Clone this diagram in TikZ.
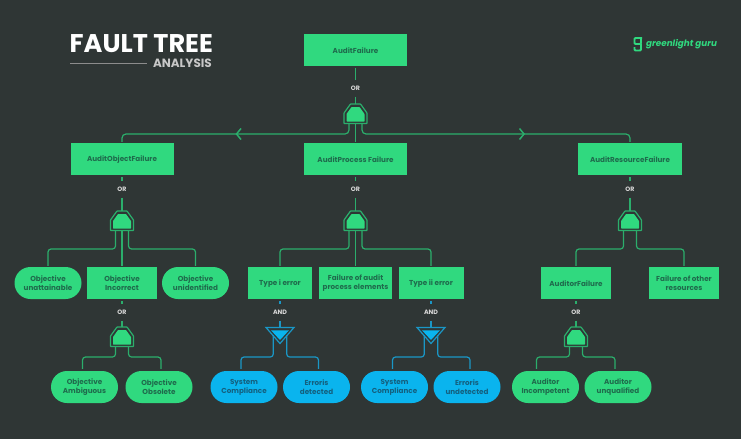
\documentclass[tikz,border=0pt]{standalone}
\usepackage{fontspec}
\setmainfont{Poppins}
\usepackage{tikz}
\usetikzlibrary{shapes.misc}
\definecolor{bgdark}{HTML}{2F3635}
\definecolor{faultgreen}{HTML}{30D97F}
\definecolor{faultblue}{HTML}{0AB4EE}
\definecolor{linegreen}{HTML}{2BAE6C}
\definecolor{lineblue}{HTML}{1A97C6}
\definecolor{textgreen}{HTML}{1F6B4C}
\definecolor{textblue}{HTML}{14607F}
\tikzset{
box/.style={fill=faultgreen,text=textgreen,font=\fontsize{7.2}{9}\selectfont\bfseries,align=center,inner sep=0pt,minimum height=32pt,execute at begin node=\rule{0pt}{7.5pt}},
pill/.style={box,rounded rectangle,minimum width=67pt},
bluepill/.style={pill,fill=faultblue,text=textblue},
gatelabel/.style={text=white!85!black,font=\fontsize{6.3}{7}\selectfont\bfseries,inner sep=0pt,minimum width=14pt,minimum height=16pt},
wire/.style={linegreen,line width=1.2pt,rounded corners=3pt},
bluewire/.style={wire,lineblue},
}
% OR gate, top middle at #2
\newcommand{\orgate}[2]{
\begin{scope}[shift={#2}]
\coordinate (#1) at (0,0);
\coordinate (#1b) at (0,19.5);
\coordinate (#1l) at (-6.5,19.5);
\coordinate (#1r) at (6.5,19.5);
\draw[wire,rounded corners=0.5pt] (-11.5,19.5) -- (-11.5,9) -- (-5,0) -- (5,0) -- (11.5,9) -- (11.5,19.5) -- cycle;
\fill[faultgreen,rounded corners=0.5pt] (-9,17.5) -- (-9,10) -- (-4,3) -- (4,3) -- (9,10) -- (9,17.5) -- cycle;
\end{scope}
}
% AND gate, top middle at #2
\newcommand{\andgate}[2]{
\begin{scope}[shift={#2}]
\coordinate (#1) at (0,0);
\coordinate (#1l) at (-6.7,7.5);
\coordinate (#1r) at (6.7,7.5);
\draw[bluewire,rounded corners=0pt] (-14,0) -- (14,0) -- (0,16) -- cycle;
\fill[faultblue] (-9,2.8) -- (9,2.8) -- (0,12.5) -- cycle;
\end{scope}
}
\begin{document}
\begin{tikzpicture}[x=1pt,y=-1pt]
\fill[bgdark] (0,0) rectangle (741,439);
\useasboundingbox (0,0) rectangle (741,439);

% title
\node[anchor=base west,inner sep=0pt,text=white,font=\fontsize{25.6}{26}\selectfont\bfseries] (title) at (69.5,52) {FAULT TREE};
\node[anchor=base east,inner sep=0pt,text=white!78!black,font=\fontsize{12}{13}\selectfont\bfseries] (subtitle) at (212,67) {ANALYSIS};
\coordinate (ruleleft) at (70,63);
\coordinate (ruleright) at (147,63);
\draw[white!55!black,line width=0.7pt] (ruleleft) -- (ruleright);

% logo
\draw[faultgreen,line width=1.8pt,rounded corners=1pt] (642,38) -- (634.5,38) -- (634.5,44) -- (641,44) -- (641,38);
\draw[faultgreen,line width=1.8pt,rounded corners=1pt] (634.5,47) -- (634.5,50.5) -- (641,50.5) -- (641,44);
\node[anchor=west,inner sep=0pt,text=faultgreen,font=\fontsize{8.8}{9}\selectfont\bfseries\itshape] (logo) at (646,44.5) {greenlight guru};

% first row
\node[box,minimum width=103pt] (audit) at (355.5,50) {AuditFailure};
\node[box,minimum width=103pt] (object) at (122,159) {AuditObjectFailure};
\node[box,minimum width=103pt] (process) at (355.5,159) {AuditProcess Failure};
\node[box,minimum width=104pt] (resource) at (630,159) {AuditResourceFailure};

% second row
\node[pill] (unattain) at (48,283) {Objective\\unattainable};
\node[box,minimum width=70pt] (incorrect) at (122,283) {Objective\\Incorrect};
\node[pill] (unident) at (195.5,283) {Objective\\unidentified};
\node[box,minimum width=64pt] (typei) at (280,283) {Type i error};
\node[box,minimum width=73pt] (elements) at (355.5,283) {Failure of audit\\process elements};
\node[box,minimum width=65pt] (typeii) at (431,283) {Type ii error};
\node[box,minimum width=70pt] (auditor) at (576,283) {AuditorFailure};
\node[box,minimum width=70pt] (other) at (684,283) {Failure of other\\resources};

% third row
\node[pill] (ambig) at (84.5,387) {Objective\\Ambiguous};
\node[pill] (obsol) at (159,387) {Objective\\Obsolete};
\node[bluepill] (sysa) at (244,387) {System\\Compliance};
\node[bluepill] (detect) at (316.5,387) {Erroris\\detected};
\node[bluepill] (sysb) at (394.5,387) {System\\Compliance};
\node[bluepill] (undetect) at (467,387) {Erroris\\undetected};
\node[pill] (incomp) at (545.5,387) {Auditor\\Incompetent};
\node[pill] (unqual) at (618,387) {Auditor\\unqualified};

% gate labels
\node[gatelabel] (ortop) at (355.5,88.5) {OR};
\node[gatelabel] (orobject) at (122,189.5) {OR};
\node[gatelabel] (orprocess) at (355.5,189.5) {OR};
\node[gatelabel] (orresource) at (630,189.5) {OR};
\node[gatelabel] (orincorrect) at (122,312.5) {OR};
\node[gatelabel,minimum width=20pt] (andi) at (280,312.5) {AND};
\node[gatelabel,minimum width=20pt] (andii) at (431,312.5) {AND};
\node[gatelabel] (orauditor) at (576,312.5) {OR};

% gates
\orgate{gatetop}{(355.5,104)}
\orgate{gateobject}{(122,211)}
\orgate{gateprocess}{(355.5,211)}
\orgate{gateresource}{(630,211)}
\orgate{gateincorrect}{(122,327)}
\orgate{gateauditor}{(576,327)}
\andgate{gatei}{(280,327.5)}
\andgate{gateii}{(431,327.5)}

% top gate
\draw[wire,shorten <=2pt] (audit) -- (ortop);
\draw[wire] (ortop) -- (gatetop);
\draw[wire,shorten >=1pt] (gatetopb) -- (process);
\draw[wire,rounded corners=4pt,shorten >=1pt] (gatetopl) -- ++(0,10.5) -| (object.north);
\draw[wire,rounded corners=4pt,shorten >=1pt] (gatetopr) -- ++(0,10.5) -| (resource.north);
\coordinate (chevl) at (236.5,134);
\coordinate (chevr) at (524,134);
\draw[wire,line width=1.5pt,rounded corners=0pt] ([shift={(4.5,-5.5)}]chevl) -- (chevl) -- ([shift={(4.5,5.5)}]chevl);
\draw[wire,line width=1.5pt,rounded corners=0pt] ([shift={(-4.5,-5.5)}]chevr) -- (chevr) -- ([shift={(-4.5,5.5)}]chevr);

% object gate
\draw[wire,shorten <=2pt] (object) -- (orobject);
\draw[wire] (orobject) -- (gateobject);
\draw[wire,shorten >=1pt] (gateobjectb) -- (incorrect);
\draw[wire,shorten >=1pt] (gateobjectl) -- ++(0,18.5) -| (unattain.north);
\draw[wire,shorten >=1pt] (gateobjectr) -- ++(0,18.5) -| (unident.north);

% process gate
\draw[wire,shorten <=2pt] (process) -- (orprocess);
\draw[wire] (orprocess) -- (gateprocess);
\draw[wire,shorten >=1pt] (gateprocessb) -- (elements);
\draw[wire,shorten >=1pt] (gateprocessl) -- ++(0,18.5) -| (typei.north);
\draw[wire,shorten >=1pt] (gateprocessr) -- ++(0,18.5) -| (typeii.north);

% resource gate
\draw[wire,shorten <=2pt] (resource) -- (orresource);
\draw[wire] (orresource) -- (gateresource);
\draw[wire,shorten >=1pt] (gateresourcel) -- ++(0,18.5) -| (auditor.north);
\draw[wire,shorten >=1pt] (gateresourcer) -- ++(0,18.5) -| (other.north);

% incorrect gate
\draw[wire,shorten <=2pt] (incorrect) -- (orincorrect);
\draw[wire] (orincorrect) -- (gateincorrect);
\draw[wire,shorten >=2pt] (gateincorrectl) -- ++(0,10.5) -| ([xshift=-2pt]ambig.north);
\draw[wire,shorten >=2pt] (gateincorrectr) -- ++(0,10.5) -| ([xshift=2pt]obsol.north);

% type i gate
\draw[bluewire,shorten <=2pt] (typei) -- (andi);
\draw[bluewire] (andi) -- (gatei);
\draw[bluewire,shorten >=2pt] (gateil) -- ++(0,22) -| ([xshift=-3pt]sysa.north);
\draw[bluewire,shorten >=2pt] (gateir) -- ++(0,22) -| ([xshift=2pt]detect.north);

% type ii gate
\draw[bluewire,shorten <=2pt] (typeii) -- (andii);
\draw[bluewire] (andii) -- (gateii);
\draw[bluewire,shorten >=2pt] (gateiil) -- ++(0,22) -| ([xshift=-2pt]sysb.north);
\draw[bluewire,shorten >=2pt] (gateiir) -- ++(0,22) -| ([xshift=3pt]undetect.north);

% auditor gate
\draw[wire,shorten <=2pt] (auditor) -- (orauditor);
\draw[wire] (orauditor) -- (gateauditor);
\draw[wire,shorten >=2pt] (gateauditorl) -- ++(0,10.5) -| ([xshift=-9pt]incomp.north);
\draw[wire,shorten >=2pt] (gateauditorr) -- ++(0,10.5) -| ([xshift=-3pt]unqual.north);
\end{tikzpicture}
\end{document}
